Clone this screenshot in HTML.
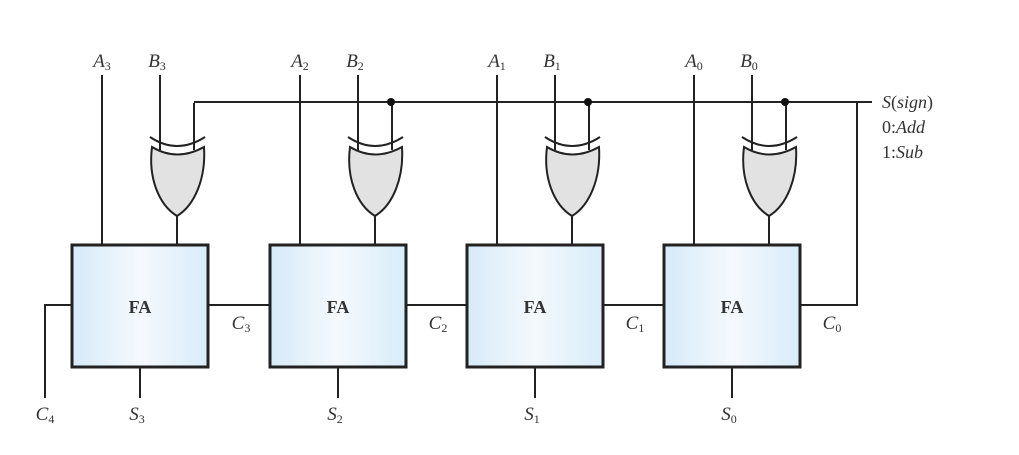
<!DOCTYPE html>
<html><head><meta charset="utf-8"><style>
body{margin:0;background:#fff}
svg{display:block}
text{font-family:"Liberation Serif",serif;fill:#333}
.s{font-style:normal;font-size:12px}
</style></head><body>
<svg width="1019" height="455" viewBox="0 0 1019 455" xmlns="http://www.w3.org/2000/svg">
<defs>
<linearGradient id="g" x1="0" x2="1" y1="0" y2="0">
<stop offset="0" stop-color="#d6eaf8"/><stop offset="0.5" stop-color="#f4f9fd"/><stop offset="1" stop-color="#d8ecf9"/>
</linearGradient>
<g id="st" stroke="#222" stroke-width="2" fill="none">
<line x1="102" y1="75" x2="102" y2="245"/>
<line x1="160" y1="75" x2="160" y2="150"/>
<line x1="194" y1="103" x2="194" y2="150"/>
<path d="M150,137 Q177,155 205,137"/>
<path d="M152,147 Q177,162 204,147 C206,178 195,205 177,216 C159,205 148,178 152,147 Z" fill="#e2e2e2"/>
<line x1="177" y1="216" x2="177" y2="245"/>
<rect x="72" y="245" width="136" height="122" fill="url(#g)" stroke-width="3"/>
<line x1="140" y1="367" x2="140" y2="398"/>
</g>
</defs>
<g stroke="#222" stroke-width="2" fill="none">
<line x1="194" y1="102" x2="872" y2="102"/>
<path d="M800,305 H857 V102"/>
<path d="M72,305 H45 V398"/>
<line x1="208" y1="305" x2="270" y2="305"/>
<line x1="406" y1="305" x2="467" y2="305"/>
<line x1="603" y1="305" x2="664" y2="305"/>
</g>
<use href="#st"/>
<use href="#st" x="198"/>
<use href="#st" x="395"/>
<use href="#st" x="592"/>
<g fill="#111"><circle cx="391" cy="102" r="4"/><circle cx="588" cy="102" r="4"/><circle cx="785" cy="102" r="4"/></g>
<g font-size="18" font-weight="bold" text-anchor="middle" style="fill:#333">
<text x="140" y="313">FA</text><text x="338" y="313">FA</text><text x="535" y="313">FA</text><text x="732" y="313">FA</text>
</g>
<g font-size="19" font-style="italic" text-anchor="middle">
<text x="102" y="67">A<tspan class="s" dy="3">3</tspan></text>
<text x="157" y="67">B<tspan class="s" dy="3">3</tspan></text>
<text x="300" y="67">A<tspan class="s" dy="3">2</tspan></text>
<text x="355" y="67">B<tspan class="s" dy="3">2</tspan></text>
<text x="497" y="67">A<tspan class="s" dy="3">1</tspan></text>
<text x="552" y="67">B<tspan class="s" dy="3">1</tspan></text>
<text x="694" y="67">A<tspan class="s" dy="3">0</tspan></text>
<text x="749" y="67">B<tspan class="s" dy="3">0</tspan></text>
<text x="241" y="329">C<tspan class="s" dy="3">3</tspan></text>
<text x="438" y="329">C<tspan class="s" dy="3">2</tspan></text>
<text x="635" y="329">C<tspan class="s" dy="3">1</tspan></text>
<text x="832" y="329">C<tspan class="s" dy="3">0</tspan></text>
<text x="45" y="420">C<tspan class="s" dy="3">4</tspan></text>
<text x="137" y="420">S<tspan class="s" dy="3">3</tspan></text>
<text x="335" y="420">S<tspan class="s" dy="3">2</tspan></text>
<text x="532" y="420">S<tspan class="s" dy="3">1</tspan></text>
<text x="729" y="420">S<tspan class="s" dy="3">0</tspan></text>
</g>
<g font-size="18">
<text x="882" y="108"><tspan font-style="italic">S</tspan>(<tspan font-style="italic">sign</tspan>)</text>
<text x="882" y="133">0:<tspan font-style="italic">Add</tspan></text>
<text x="882" y="158">1:<tspan font-style="italic">Sub</tspan></text>
</g>
</svg>
</body></html>
